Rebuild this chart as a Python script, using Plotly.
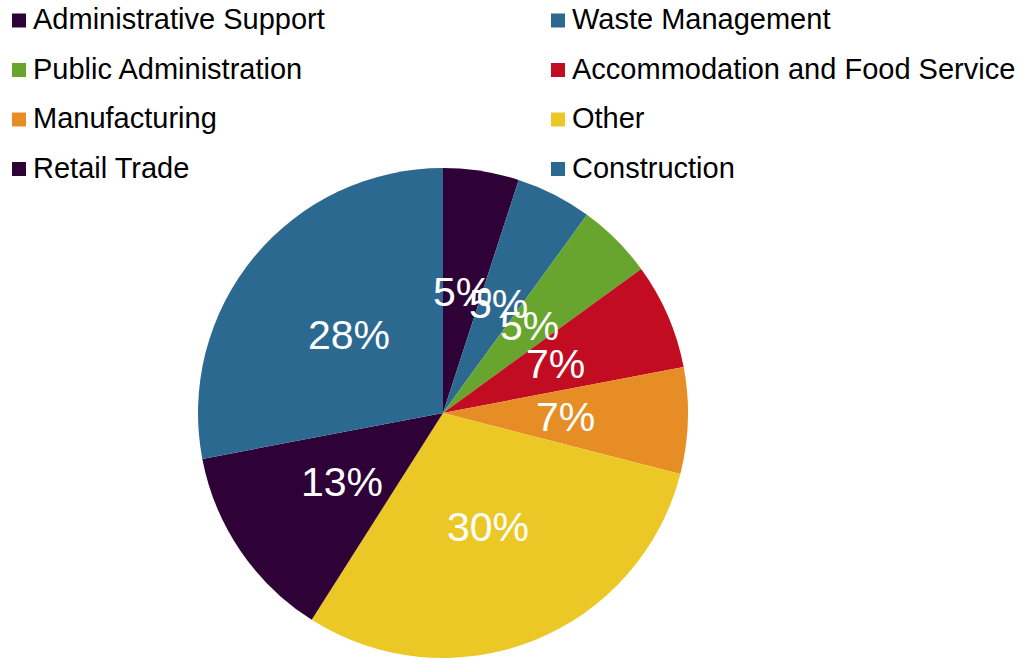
import math
import plotly.graph_objects as go

# Share of employment by industry (percent)
industries = [
    "Administrative Support",
    "Waste Management",
    "Public Administration",
    "Accommodation and Food Service",
    "Manufacturing",
    "Other",
    "Retail Trade",
    "Construction",
]
shares = [5, 5, 5, 7, 7, 30, 13, 28]
colors = [
    "#2E0237",
    "#2B6990",
    "#67A52F",
    "#C20C22",
    "#E68D25",
    "#ECC826",
    "#2E0237",
    "#2B6990",
]

W, H = 1026, 659
FONT = "Liberation Sans, Arial, sans-serif"

# Pie placement in pixels
cx, cy, R = 443, 413, 245


def px(x):
    return x / W


def py(y):
    return 1 - y / H


fig = go.Figure(
    go.Pie(
        labels=industries,
        values=shares,
        marker=dict(colors=colors, line=dict(width=0)),
        sort=False,
        direction="clockwise",
        rotation=0,
        textinfo="none",
        hoverinfo="label+percent",
        showlegend=False,
        domain=dict(x=[px(cx - R), px(cx + R)], y=[py(cy + R), py(cy - R)]),
    )
)

annotations = []
shapes = []

# Percentage labels centred halfway out along each slice's mid-angle
total = sum(shares)
cum = 0
for v in shares:
    mid = (cum + v / 2) / total * 2 * math.pi
    cum += v
    lx = cx + 0.5 * R * math.sin(mid)
    ly = cy - 0.5 * R * math.cos(mid)
    annotations.append(
        dict(
            x=px(lx), y=py(ly), xref="paper", yref="paper",
            text=f"{round(v / total * 100)}%",
            showarrow=False, xanchor="center", yanchor="middle",
            font=dict(family=FONT, size=41, color="white"),
        )
    )

# Two-column legend across the top
col_x = [12, 551]
row_y0, row_step = 20.5, 49.5
for i, (name, c) in enumerate(zip(industries, colors)):
    col, row = i % 2, i // 2
    sx = col_x[col]
    sy = row_y0 + row * row_step
    shapes.append(
        dict(
            type="rect", xref="paper", yref="paper",
            x0=px(sx), x1=px(sx + 14), y0=py(sy + 7), y1=py(sy - 7),
            fillcolor=c, line=dict(width=0),
        )
    )
    annotations.append(
        dict(
            x=px(sx + 19), y=py(sy - 1.5), xref="paper", yref="paper",
            text=name, showarrow=False, xanchor="left", yanchor="middle",
            font=dict(family=FONT, size=29, color="black"),
        )
    )

fig.update_layout(
    width=W,
    height=H,
    margin=dict(l=0, r=0, t=0, b=0),
    paper_bgcolor="white",
    plot_bgcolor="white",
    annotations=annotations,
    shapes=shapes,
)

fig.write_html("out.html")
